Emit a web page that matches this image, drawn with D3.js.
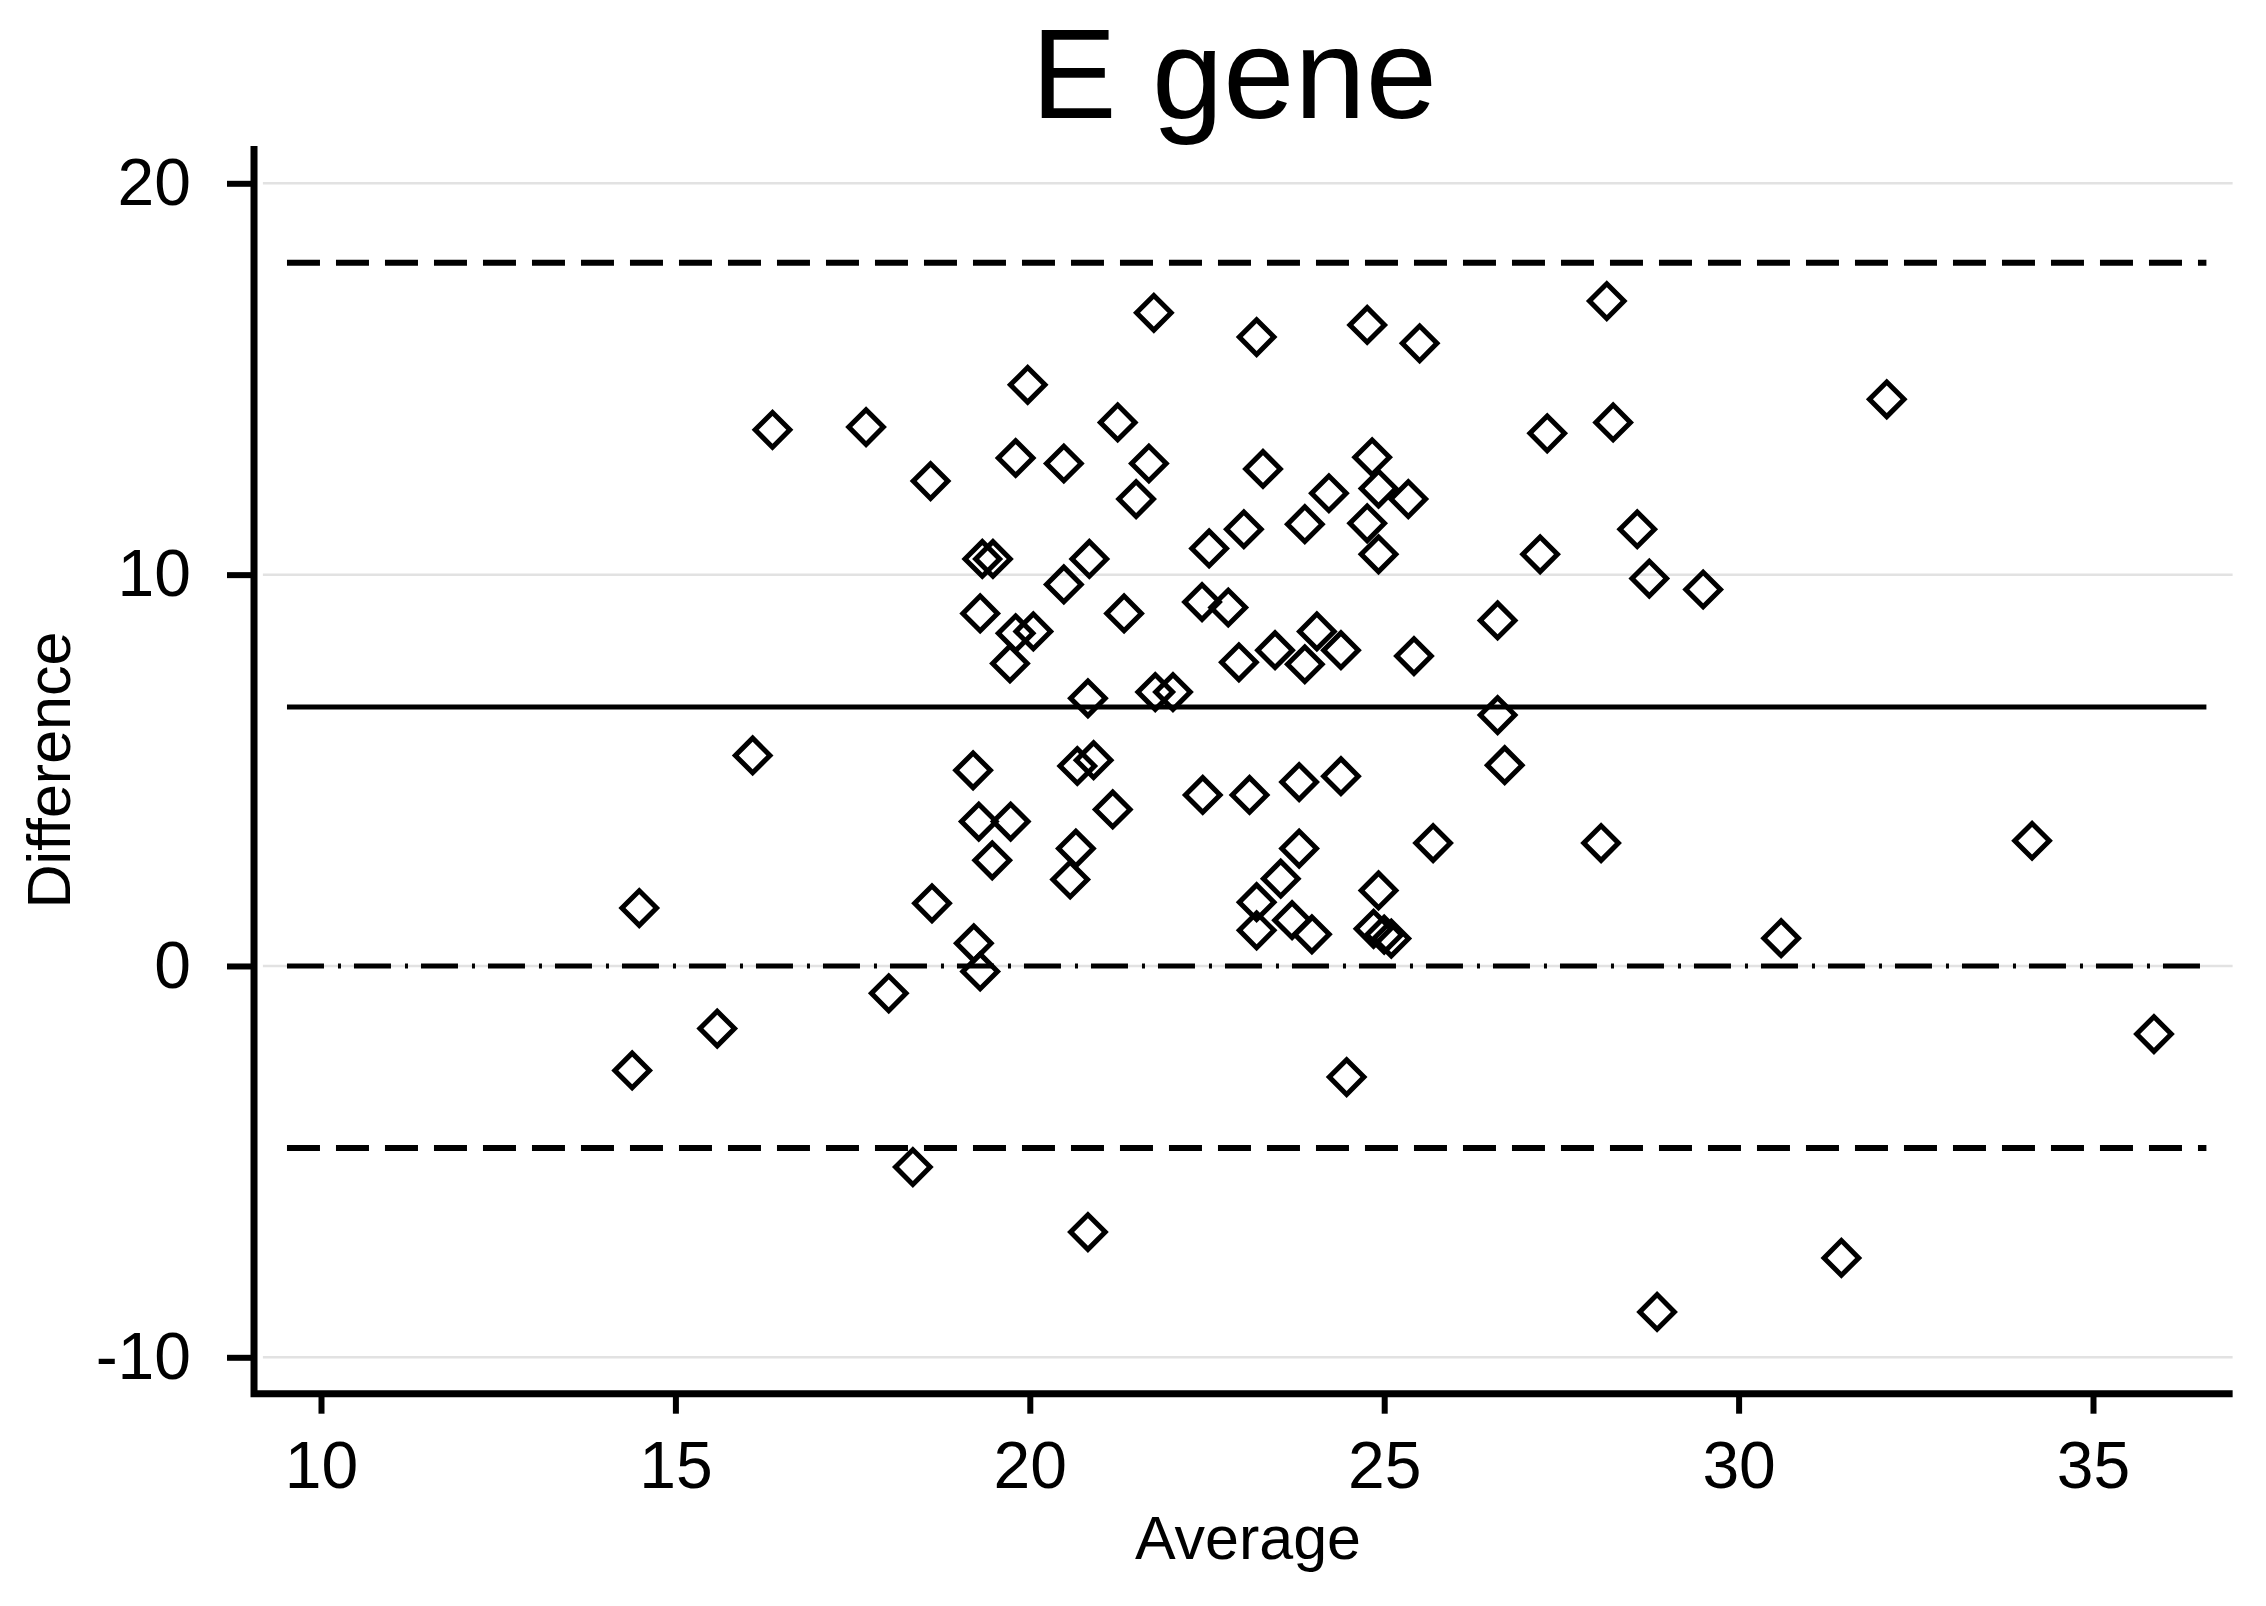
<!DOCTYPE html>
<html lang="en">
<head>
  <meta charset="UTF-8">
  <title>E gene</title>
  <script src="https://d3js.org/d3.v7.min.js"></script>
  <style>
    body { margin: 0; background: #fff; }
    text { font-family: "Liberation Sans", Arial, sans-serif; fill: #000; }
    .tick text { font-size: 66px; }
    .tick line { stroke: #000; stroke-width: 6; }
  </style>
</head>
<body>
<div id="chart"></div>

<script>
// Bland-Altman points: average of the two methods vs their difference
var average = [14.49, 14.39, 15.59, 16.09, 16.37, 17.69, 18.01, 18.35, 18.62, 18.60,
  19.97, 21.75, 23.20, 21.24, 19.80, 20.48, 21.68, 21.50, 23.29, 24.22,
  23.88, 23.02, 22.53, 19.33, 19.48, 20.84, 20.48, 19.30, 19.80, 20.05,
  19.72, 21.33, 22.43, 22.80, 22.95, 23.46, 24.05, 23.88, 24.39, 20.82,
  21.77, 22.02, 24.76, 25.50, 28.14, 27.30, 28.23, 32.09, 24.83, 24.92,
  25.34, 24.76, 24.92, 27.20, 28.57, 28.74, 29.50, 26.60, 25.42, 26.60,
  19.20, 20.67, 20.90, 22.44, 23.10, 23.80, 24.39, 19.28, 19.73, 21.17,
  19.47, 20.65, 20.57, 23.80, 23.54, 23.20, 23.20, 23.70, 23.98, 19.21,
  19.30, 20.82, 24.47, 26.70, 25.69, 28.06, 24.92, 24.85, 25.00, 25.10,
  30.60, 31.45, 34.14, 35.86, 28.85];

var difference = [1.48, -2.67, -1.60, 5.38, 13.70, 13.77, -0.70, -5.14, 1.60, 12.39,
  14.85, 16.69, 16.07, 13.89, 12.98, 12.84, 12.84, 11.93, 12.70, 12.08,
  11.29, 11.16, 10.67, 10.40, 10.40, 10.40, 9.75, 9.01, 8.50, 8.55,
  7.73, 9.01, 9.30, 9.16, 7.76, 8.07, 8.55, 7.71, 8.07, 6.84,
  7.00, 7.00, 16.38, 15.91, 16.99, 13.61, 13.89, 14.48, 13.00, 12.20,
  11.93, 11.31, 10.52, 10.52, 11.16, 9.90, 9.62, 8.83, 7.92, 6.41,
  5.00, 5.11, 5.26, 4.37, 4.37, 4.70, 4.85, 3.69, 3.69, 4.00,
  2.70, 3.00, 2.21, 3.00, 2.23, 1.63, 0.91, 1.17, 0.81, 0.58,
  -0.14, -6.80, -2.84, 5.13, 3.14, 3.14, 1.93, 0.95, 0.80, 0.70,
  0.71, -7.46, 3.20, -1.74, -8.84];

var xTicks = [10, 15, 20, 25, 30, 35];
var yTicks = [-10, 0, 10, 20];

var meanDiff = 6.62;
var upperLoA = 17.97;
var lowerLoA = -4.65;
var zeroDiff = 0;

// the reference lines run a little past the outer ticks
var lineSpan = [9.52, 36.6];

var width = 2266, height = 1606;

// ticks
var x = d3.scaleLinear().domain([10, 35]).range([321, 2093]);
var y = d3.scaleLinear().domain([20, -10]).range([183.3, 1357.3]);

// frame of the plot region, in data units
var xFrame = [9.055, 36.97];
var yFrame = [-10.93, 20.95];

var svg = d3.select("#chart")
  .append("svg")
    .attr("width", width)
    .attr("height", height);

// light horizontal grid
svg.append("g")
  .selectAll("line")
  .data(yTicks)
  .enter().append("line")
    .attr("x1", x(9.18))
    .attr("x2", x(xFrame[1]))
    .attr("y1", function(d) { return y(d); })
    .attr("y2", function(d) { return y(d); })
    .attr("stroke", "#e2e2e2")
    .attr("stroke-width", 2.5);

// reference lines: mean, limits of agreement, zero
var refLines = [
  {v: upperLoA, dash: "33,16", w: 6},
  {v: meanDiff, dash: null, w: 5},
  {v: zeroDiff, dash: "37,14,3,13", w: 5},
  {v: lowerLoA, dash: "33,16", w: 6}
];

svg.append("g")
  .selectAll("line")
  .data(refLines)
  .enter().append("line")
    .attr("x1", x(lineSpan[0]))
    .attr("x2", x(lineSpan[1]))
    .attr("y1", function(d) { return y(d.v); })
    .attr("y2", function(d) { return y(d.v); })
    .attr("stroke", "#000")
    .attr("stroke-width", function(d) { return d.w; })
    .attr("stroke-dasharray", function(d) { return d.dash; });

// hollow diamonds
var diamond = d3.symbol().type(d3.symbolSquare).size(600);

svg.append("g")
  .selectAll("path")
  .data(average)
  .enter().append("path")
    .attr("d", diamond)
    .attr("transform", function(d, i) {
      return "translate(" + x(d) + "," + y(difference[i]) + ") rotate(45)";
    })
    .attr("fill", "none")
    .attr("stroke", "#000")
    .attr("stroke-width", 5);

// axes
var yAxis = svg.append("g")
  .attr("transform", "translate(" + x(xFrame[0]) + ",0)")
  .call(d3.axisLeft(y).tickValues(yTicks).tickSize(27).tickPadding(36)
    .tickFormat(function(d) { return String(d); }));
yAxis.select(".domain").remove();

var xAxis = svg.append("g")
  .attr("transform", "translate(0," + y(yFrame[0]) + ")")
  .call(d3.axisBottom(x).tickValues(xTicks).tickSize(20).tickPadding(27));
xAxis.select(".domain").remove();

svg.append("path")
  .attr("d", "M" + x(xFrame[0]) + "," + y(yFrame[1]) +
             "V" + y(yFrame[0]) + "H" + x(xFrame[1]))
  .attr("fill", "none")
  .attr("stroke", "#000")
  .attr("stroke-width", 7)
  .attr("stroke-linejoin", "miter");

// titles
svg.append("text")
  .attr("x", 1234)
  .attr("y", 118)
  .attr("text-anchor", "middle")
  .style("font-size", "128px")
  .text("E gene");

svg.append("text")
  .attr("x", 1248)
  .attr("y", 1559)
  .attr("text-anchor", "middle")
  .style("font-size", "61px")
  .text("Average");

svg.append("text")
  .attr("transform", "translate(70,770) rotate(-90)")
  .attr("text-anchor", "middle")
  .style("font-size", "61px")
  .text("Difference");
</script>
</body>
</html>
